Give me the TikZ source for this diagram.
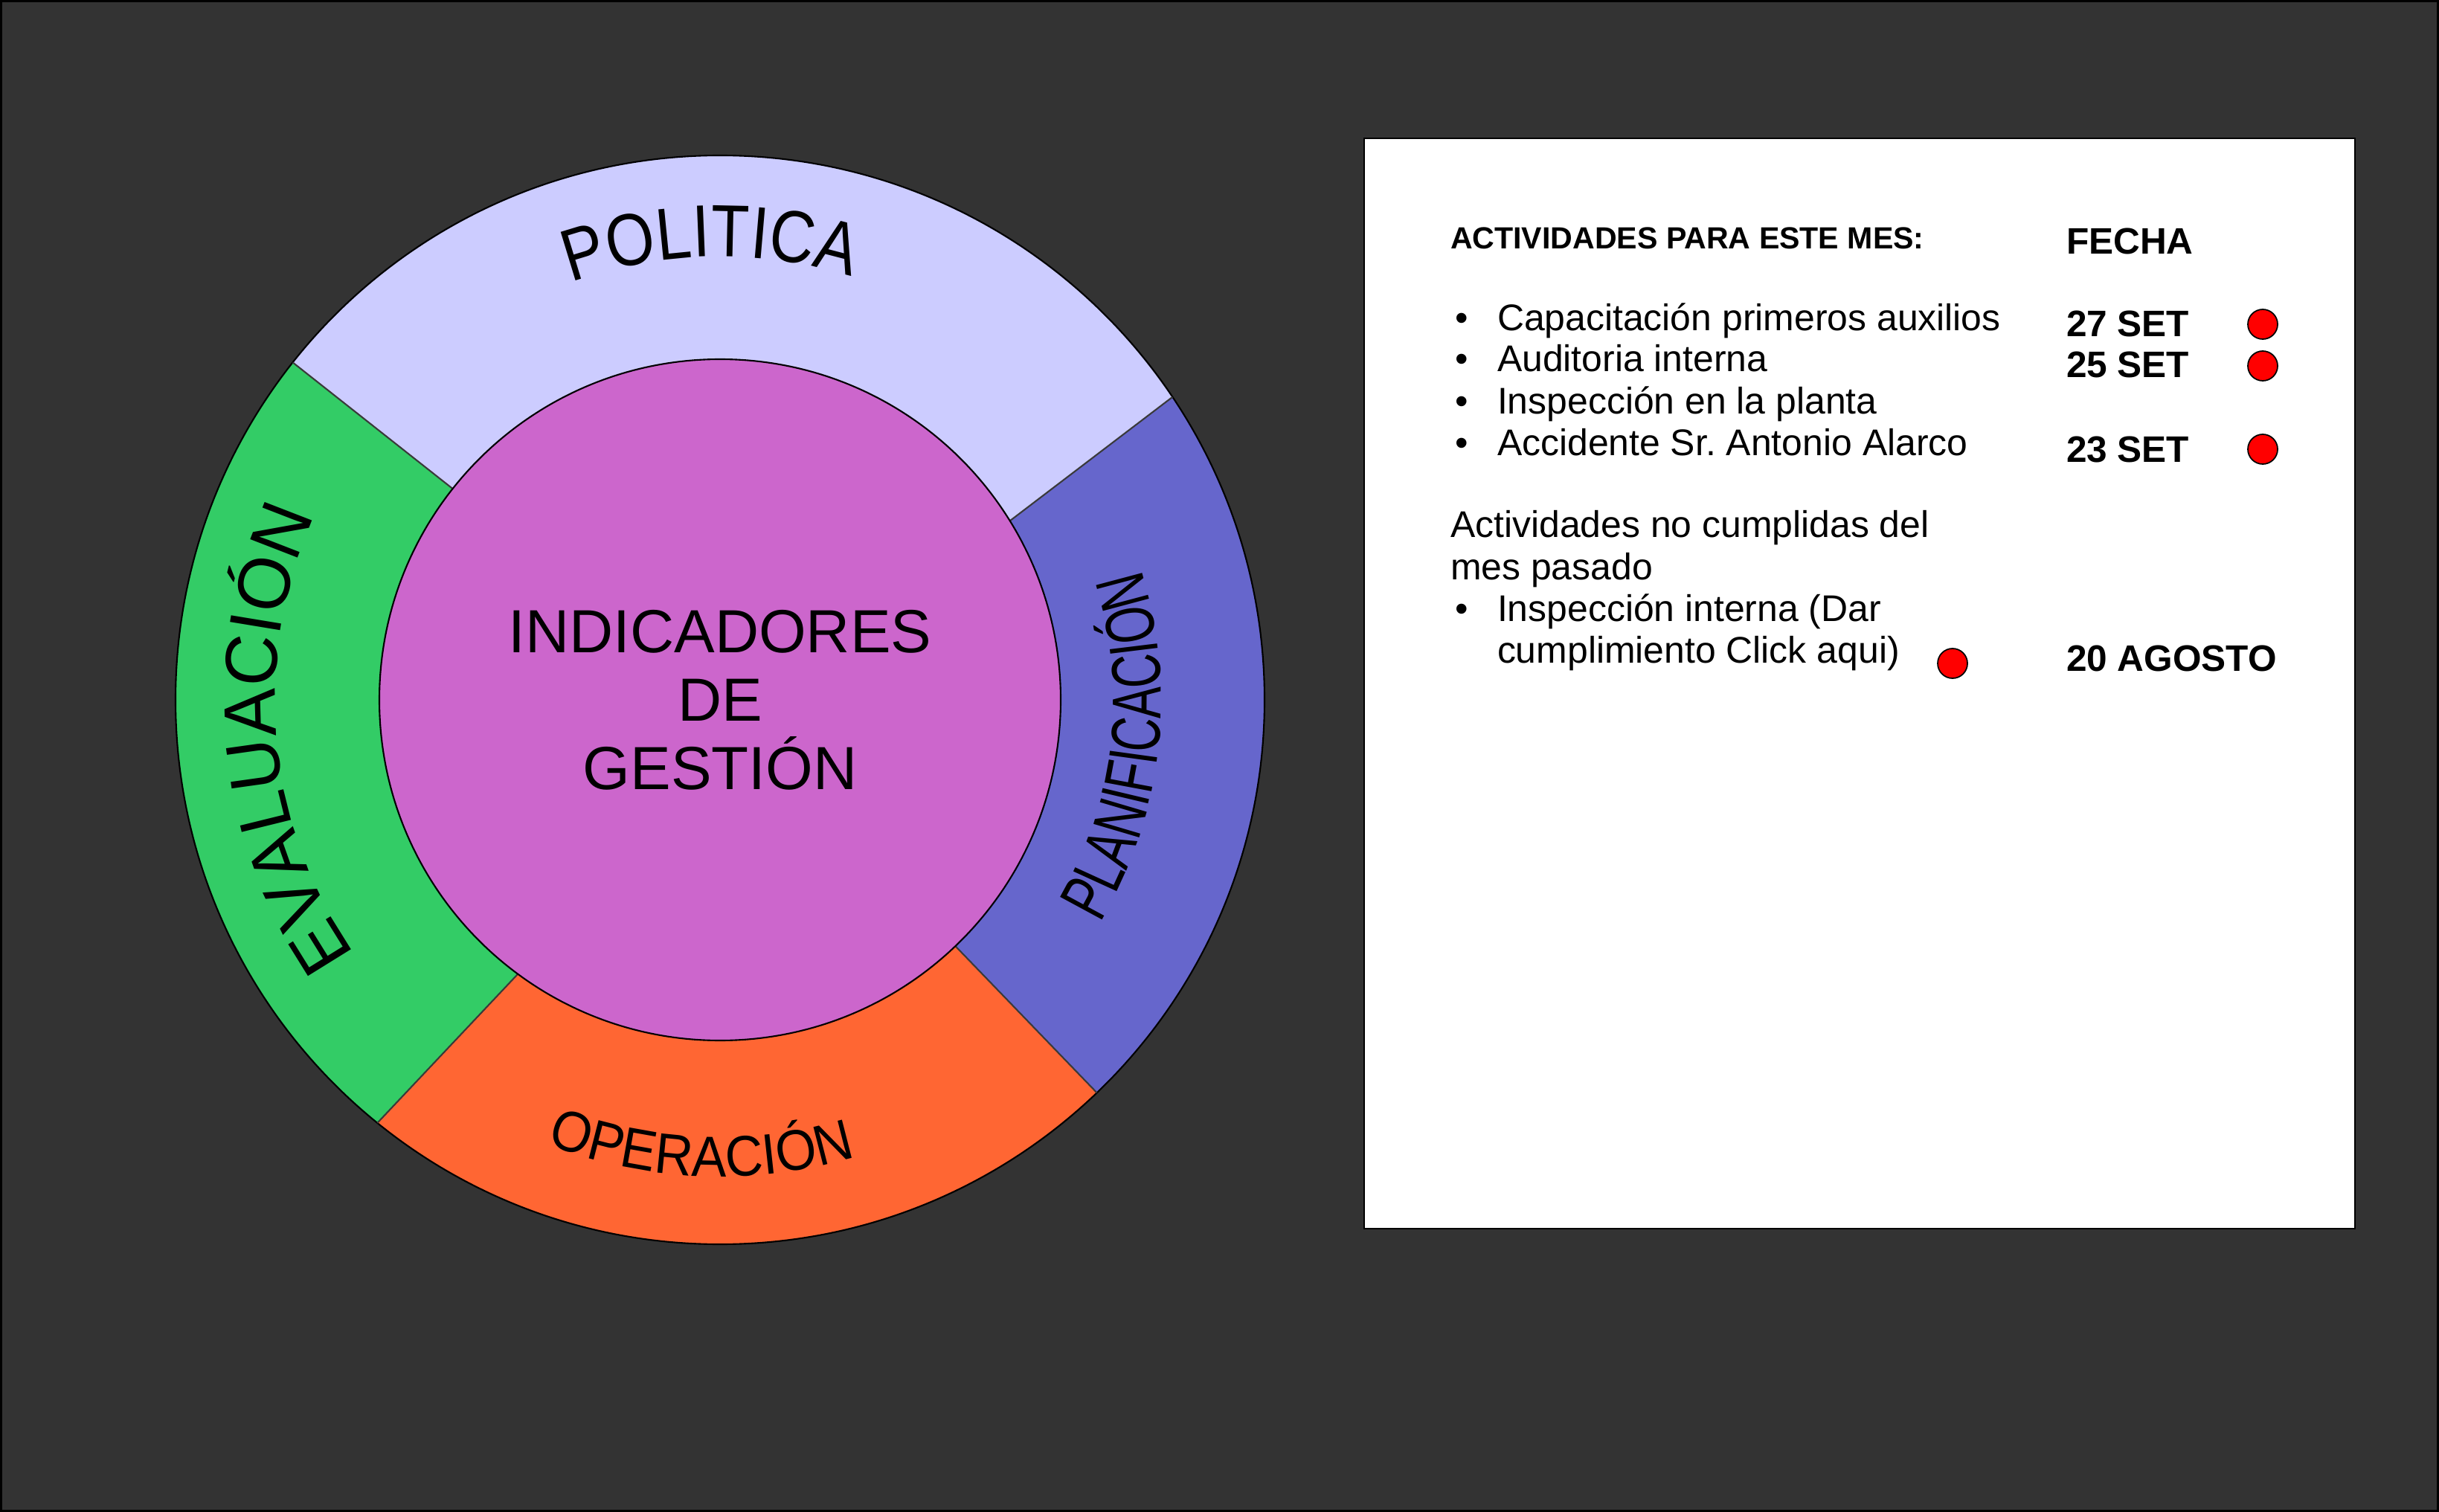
\documentclass[tikz,border=0pt]{standalone}
\usepackage{fontspec}
\setmainfont{Liberation Sans}
\newfontfamily\polfont[FakeStretch=0.85]{Liberation Sans}
\newfontfamily\opfont[FakeStretch=0.92]{Liberation Sans}
\newfontfamily\evfont[FakeStretch=0.97]{Liberation Sans}
\newfontfamily\plfont[FakeStretch=0.69]{Liberation Sans}
\usetikzlibrary{calc,decorations.text,positioning}
\definecolor{bgdark}{HTML}{333333}
\definecolor{politica}{HTML}{CCCCFF}
\definecolor{planif}{HTML}{6666CC}
\definecolor{operac}{HTML}{FF6633}
\definecolor{evalu}{HTML}{33CC66}
\definecolor{indic}{HTML}{CC66CC}
\definecolor{segline}{HTML}{3A3A3A}
\definecolor{dotred}{HTML}{FF0000}
\newcommand{\rOut}{7.32}
\newcommand{\rIn}{4.58}

\begin{document}
\begin{tikzpicture}[
  every node/.style={inner sep=0pt,outer sep=0pt},
  segcut/.style={draw=segline,line width=0.6pt},
  core/.style={circle,fill=indic,draw=black,line width=0.6pt,
               minimum size=9.16cm,align=center,
               font=\fontsize{23.3pt}{26.2pt}\selectfont},
  ptxt/.style={anchor=base west,font=\fontsize{14.2pt}{16.2pt}\selectfont},
  pbul/.style={anchor=base,font=\fontsize{14.2pt}{16.2pt}\selectfont},
  pdate/.style={anchor=base west,font=\fontsize{14.1pt}{16pt}\selectfont\bfseries},
  reddot/.style={circle,fill=dotred,draw=black,line width=0.5pt,minimum size=0.40cm}
]
\useasboundingbox (0,0) rectangle (32.79,-20.33);

% background
\draw[fill=bgdark,draw=black,line width=0.03cm] (0.015,-0.015) rectangle (32.775,-20.315);

% ring geometry
\coordinate (C) at (9.68,-9.41);
\coordinate (o1) at ($(C)+(141.7:\rOut)$);
\coordinate (i1) at ($(C)+(141.7:\rIn)$);
\coordinate (o2) at ($(C)+(33.8:\rOut)$);
\coordinate (i2) at ($(C)+(31.7:\rIn)$);
\coordinate (o3) at ($(C)+(-46.2:\rOut)$);
\coordinate (i3) at ($(C)+(-46.3:\rIn)$);
\coordinate (o4) at ($(C)+(231.0:\rOut)$);
\coordinate (i4) at ($(C)+(233.6:\rIn)$);

% sectors
\fill[politica] (C) -- (i1) -- (o1) arc[start angle=141.7,end angle=33.8,radius=\rOut] -- (i2) -- cycle;
\fill[planif]   (C) -- (i2) -- (o2) arc[start angle=33.8,end angle=-46.2,radius=\rOut] -- (i3) -- cycle;
\fill[operac]   (C) -- (i3) -- (o3) arc[start angle=-46.2,end angle=-129.0,radius=\rOut] -- (i4) -- cycle;
\fill[evalu]    (C) -- (i4) -- (o4) arc[start angle=231.0,end angle=141.7,radius=\rOut] -- (i1) -- cycle;
\draw[black,line width=0.6pt] (C) circle[radius=\rOut];
\draw[segcut] (i1) -- (o1);
\draw[segcut] (i2) -- (o2);
\draw[segcut] (i3) -- (o3);
\draw[segcut] (i4) -- (o4);

% centre
\node[core] (indicadores) at (C) {INDICADORES\\DE\\GESTIÓN};

% curved labels
\path[decorate,decoration={text along path,text align=center,
  text={|\polfont\fontsize{28.2pt}{28.2pt}\selectfont|POLITICA}}]
  ($(C)+(121.2:5.96)$) arc[start angle=121.2,end angle=61.2,radius=5.96];
\path[decorate,decoration={text along path,text align=center,
  text={|\plfont\fontsize{26.5pt}{26.5pt}\selectfont|PLANIFICACIÓN}}]
  ($(C)+(-41.65:5.93)$) arc[start angle=-41.65,end angle=28.35,radius=5.93];
\path[decorate,decoration={text along path,text align=center,
  text={|\opfont\fontsize{21.9pt}{21.9pt}\selectfont|OPERACIÓN}}]
  ($(C)+(-122.4:6.41)$) arc[start angle=-122.4,end angle=-62.4,radius=6.41];
\path[decorate,decoration={text along path,text align=center,
  text={|\evfont\fontsize{28.2pt}{28.2pt}\selectfont|EVALUACIÓN}}]
  ($(C)+(225.2:5.98)$) arc[start angle=225.2,end angle=145.2,radius=5.98];

% activity panel
\draw[fill=white,draw=black,line width=0.6pt] (18.34,-1.86) rectangle (31.66,-16.52);
\node[anchor=base west,font=\fontsize{11.7pt}{14pt}\selectfont\bfseries] (hdr) at (19.50,-3.35) {ACTIVIDADES PARA ESTE MES:};
\node[pdate] (fecha) at (27.78,-3.42) {FECHA};

\node[pbul] (b1) at (19.65,-4.45) {•};
\node[ptxt] (t1) at (20.13,-4.45) {Capacitación primeros auxilios};
\node[pbul] (b2) at (19.65,-5.00) {•};
\node[ptxt] (t2) at (20.13,-5.00) {Auditoria interna};
\node[pbul] (b3) at (19.65,-5.57) {•};
\node[ptxt] (t3) at (20.13,-5.57) {Inspección en la planta};
\node[pbul] (b4) at (19.65,-6.13) {•};
\node[ptxt] (t4) at (20.13,-6.13) {Accidente Sr.\ Antonio Alarco};

\node[pdate] (f1) at (27.78,-4.53) {27 SET};
\node[pdate] (f2) at (27.78,-5.08) {25 SET};
\node[pdate] (f3) at (27.78,-6.22) {23 SET};
\node[reddot] (d1) at (30.42,-4.36) {};
\node[reddot] (d2) at (30.42,-4.92) {};
\node[reddot] (d3) at (30.42,-6.04) {};

\node[ptxt] (n1) at (19.50,-7.23) {Actividades no cumplidas del};
\node[ptxt] (n2) at (19.50,-7.80) {mes pasado};
\node[pbul] (b5) at (19.65,-8.35) {•};
\node[ptxt] (t5) at (20.13,-8.35) {Inspección interna (Dar};
\node[ptxt] (t6) at (20.13,-8.92) {cumplimiento Click aqui)};
\node[reddot] (d4) at (26.25,-8.92) {};
\node[pdate] (f4) at (27.78,-9.02) {20 AGOSTO};

\end{tikzpicture}
\end{document}
